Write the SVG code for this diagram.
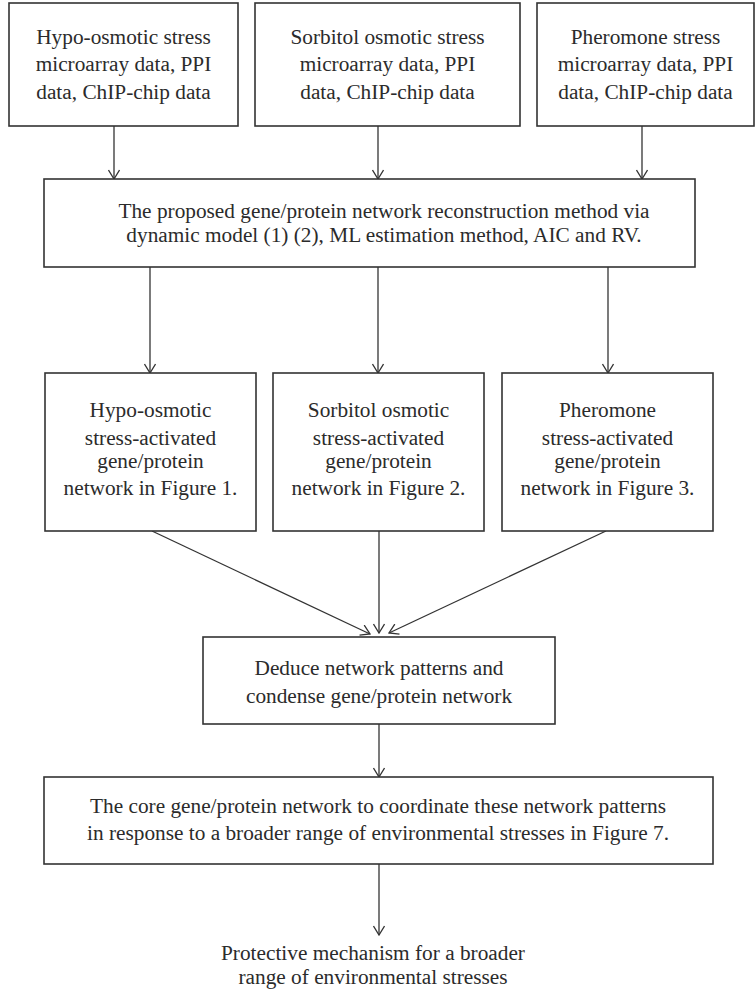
<svg xmlns="http://www.w3.org/2000/svg" width="756" height="991" viewBox="0 0 756 991">
<style>
.box{fill:#fff;stroke:#333;stroke-width:1.6}
.t{font-family:"Liberation Serif",serif;font-size:21.3px;fill:#2b2b2b;text-anchor:middle}
.c{stroke:#333;stroke-width:1.3;fill:none}
</style>
<defs>
<marker id="ah" viewBox="0 0 12 12" refX="11" refY="6" markerWidth="12" markerHeight="12" markerUnits="userSpaceOnUse" orient="auto">
<path d="M2,0.5 L11,6 L2,11.5" fill="none" stroke="#333" stroke-width="1.3"/>
</marker>
</defs>
<rect width="756" height="991" fill="#fff"/>
<g id="connectors">
<line class="c" x1="114" y1="126" x2="114" y2="179" marker-end="url(#ah)"/>
<line class="c" x1="378" y1="126" x2="378" y2="179" marker-end="url(#ah)"/>
<line class="c" x1="642" y1="126" x2="642" y2="179" marker-end="url(#ah)"/>
<line class="c" x1="150" y1="267" x2="150" y2="373" marker-end="url(#ah)"/>
<line class="c" x1="378" y1="267" x2="378" y2="373" marker-end="url(#ah)"/>
<line class="c" x1="608" y1="267" x2="608" y2="373" marker-end="url(#ah)"/>
<line class="c" x1="152" y1="531" x2="370" y2="634" marker-end="url(#ah)"/>
<line class="c" x1="379" y1="531" x2="379" y2="633" marker-end="url(#ah)"/>
<line class="c" x1="606" y1="531" x2="389" y2="633" marker-end="url(#ah)"/>
<line class="c" x1="379" y1="724" x2="379" y2="777" marker-end="url(#ah)"/>
<line class="c" x1="379" y1="864" x2="379" y2="935" marker-end="url(#ah)"/>
</g>
<g id="n1">
<rect class="box" x="9" y="3" width="229" height="123"/>
<text class="t" x="123.5" y="44">Hypo-osmotic stress</text>
<text class="t" x="123.5" y="71">microarray data, PPI</text>
<text class="t" x="123.5" y="99">data, ChIP-chip data</text>
</g>
<g id="n2">
<rect class="box" x="255" y="3" width="265" height="123"/>
<text class="t" x="387.5" y="44">Sorbitol osmotic stress</text>
<text class="t" x="387.5" y="71">microarray data, PPI</text>
<text class="t" x="387.5" y="99">data, ChIP-chip data</text>
</g>
<g id="n3">
<rect class="box" x="537" y="3" width="217" height="123"/>
<text class="t" x="645.5" y="44">Pheromone stress</text>
<text class="t" x="645.5" y="71">microarray data, PPI</text>
<text class="t" x="645.5" y="99">data, ChIP-chip data</text>
</g>
<g id="n4">
<rect class="box" x="44" y="179" width="651" height="88"/>
<text class="t" x="384" y="218">The proposed gene/protein network reconstruction method via</text>
<text class="t" x="384" y="242">dynamic model (1) (2), ML estimation method, AIC and RV.</text>
</g>
<g id="n5">
<rect class="box" x="45" y="373" width="211" height="158"/>
<text class="t" x="150.5" y="417">Hypo-osmotic</text>
<text class="t" x="150.5" y="445">stress-activated</text>
<text class="t" x="150.5" y="468">gene/protein</text>
<text class="t" x="150.5" y="495">network in Figure 1.</text>
</g>
<g id="n6">
<rect class="box" x="273" y="373" width="211" height="158"/>
<text class="t" x="378.5" y="417">Sorbitol osmotic</text>
<text class="t" x="378.5" y="445">stress-activated</text>
<text class="t" x="378.5" y="468">gene/protein</text>
<text class="t" x="378.5" y="495">network in Figure 2.</text>
</g>
<g id="n7">
<rect class="box" x="502" y="373" width="211" height="158"/>
<text class="t" x="607.5" y="417">Pheromone</text>
<text class="t" x="607.5" y="445">stress-activated</text>
<text class="t" x="607.5" y="468">gene/protein</text>
<text class="t" x="607.5" y="495">network in Figure 3.</text>
</g>
<g id="n8">
<rect class="box" x="203" y="637" width="352" height="87"/>
<text class="t" x="379" y="675">Deduce network patterns and</text>
<text class="t" x="379" y="703">condense gene/protein network</text>
</g>
<g id="n9">
<rect class="box" x="44" y="777" width="669" height="87"/>
<text class="t" x="378" y="813">The core gene/protein network to coordinate these network patterns</text>
<text class="t" x="378" y="840">in response to a broader range of environmental stresses in Figure 7.</text>
</g>
<g id="n10">
<text class="t" x="373" y="960">Protective mechanism for a broader</text>
<text class="t" x="373" y="984">range of environmental stresses</text>
</g>
</svg>
